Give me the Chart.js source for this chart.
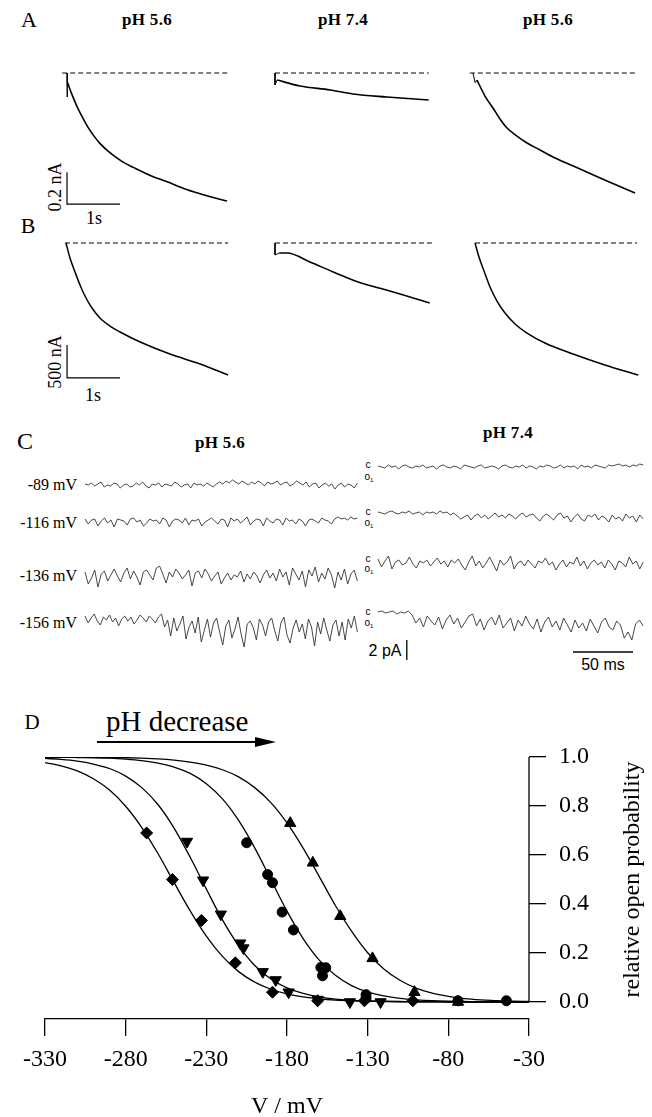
<!DOCTYPE html>
<html>
<head>
<meta charset="utf-8">
<script src="https://cdn.jsdelivr.net/npm/chart.js@4.4.1/dist/chart.umd.min.js"></script>
<style>
  html, body { margin: 0; padding: 0; background: #fff; }
  body { width: 652px; height: 1117px; position: relative; overflow: hidden; font-family: "Liberation Serif", serif; color: #000; }
  canvas { position: absolute; }
  .t { position: absolute; transform: translate(-50%, -50%); white-space: nowrap; line-height: 1; }
  .l { position: absolute; transform: translate(0, -50%); white-space: nowrap; line-height: 1; }
  .r { position: absolute; transform: translate(-100%, -50%); white-space: nowrap; line-height: 1; }
  .rot { position: absolute; transform: translate(-50%, -50%) rotate(-90deg); white-space: nowrap; line-height: 1; }
  .ph { font-weight: bold; font-size: 17px; letter-spacing: 0.3px; }
  .sans { font-family: "Liberation Sans", Arial, sans-serif; }
  .co { font-family: "Liberation Sans", Arial, sans-serif; font-size: 10px; }
  .co sub { font-size: 6px; vertical-align: -2px; }
</style>
</head>
<body>
<!-- panel A -->
<div class="t" style="left:29px;top:20px;font-size:22px">A</div>
<div class="t ph" style="left:147px;top:19px">pH 5.6</div>
<div class="t ph" style="left:343px;top:19px">pH 7.4</div>
<div class="t ph" style="left:548px;top:19px">pH 5.6</div>
<div class="rot" style="left:55px;top:187px;font-size:18px">0.2 nA</div>
<div class="t" style="left:94px;top:218px;font-size:18px">1s</div>
<!-- panel B -->
<div class="t" style="left:28px;top:226px;font-size:22px">B</div>
<div class="rot" style="left:55px;top:362px;font-size:18px">500 nA</div>
<div class="t" style="left:93px;top:395px;font-size:18px">1s</div>
<!-- panel C -->
<div class="t" style="left:25px;top:441px;font-size:24px">C</div>
<div class="t ph" style="left:220px;top:442px">pH 5.6</div>
<div class="t ph" style="left:508px;top:432px">pH 7.4</div>
<div class="r" style="left:77px;top:485px;font-size:16px">-89 mV</div>
<div class="r" style="left:77px;top:523px;font-size:16px">-116 mV</div>
<div class="r" style="left:77px;top:576px;font-size:16px">-136 mV</div>
<div class="r" style="left:77px;top:623px;font-size:16px">-156 mV</div>
<div class="t co" style="left:368px;top:465px">c</div>
<div class="t co" style="left:369px;top:477px">o<sub>1</sub></div>
<div class="t co" style="left:368px;top:512px">c</div>
<div class="t co" style="left:369px;top:523px">o<sub>1</sub></div>
<div class="t co" style="left:368px;top:559px">c</div>
<div class="t co" style="left:369px;top:569px">o<sub>1</sub></div>
<div class="t co" style="left:368px;top:612px">c</div>
<div class="t co" style="left:369px;top:623px">o<sub>1</sub></div>
<div class="t sans" style="left:385px;top:651px;font-size:16px">2 pA</div>
<div class="t sans" style="left:603px;top:665px;font-size:16px">50 ms</div>
<!-- panel D -->
<div class="t" style="left:32px;top:722px;font-size:21px">D</div>
<div class="l" style="left:106px;top:721px;font-size:29px">pH decrease</div>
<svg style="position:absolute;left:95px;top:734px" width="185" height="16">
  <line x1="2" y1="8" x2="166" y2="8" stroke="#000" stroke-width="2"/>
  <polygon points="160,3 181,8 160,13" fill="#000"/>
</svg>
<canvas id="dChart" width="652" height="430" style="left:0;top:700px"></canvas>

<script>
Chart.defaults.font.family = '"Liberation Serif", "Times New Roman", serif';
Chart.defaults.color = '#000';

// ---------- A: currents, time in s, current in nA ----------
const A1_T = [0.01, 0.1, 0.19, 0.28, 0.38, 0.5, 0.62, 0.78, 0.94, 1.1, 1.25, 1.57, 1.89, 2.19, 2.51, 2.83, 3.02];
const A1_I = [-0.06, -0.14, -0.21, -0.27, -0.33, -0.39, -0.44, -0.49, -0.53, -0.565, -0.59, -0.64, -0.68, -0.72, -0.755, -0.785, -0.80];
const A2_T = [0.04, 0.47, 1.04, 1.47, 2.11, 2.9];
const A2_I = [-0.044, -0.081, -0.106, -0.131, -0.15, -0.169];
const A3_T = [0.075, 0.226, 0.377, 0.509, 0.642, 0.83, 1.019, 1.264, 1.509, 2.019, 2.528, 3.057];
const A3_I = [-0.044, -0.144, -0.219, -0.2875, -0.344, -0.394, -0.4375, -0.481, -0.525, -0.6, -0.675, -0.75];
const A_SCALE_NA = 0.2;
const A_SCALE_S = 1;

// ---------- B: currents, time in s, current in nA ----------
const B1_T = [0, 0.075, 0.17, 0.264, 0.358, 0.49, 0.64, 0.83, 1.02, 1.40, 1.96, 2.53, 3.06];
const B1_I = [0, -227, -439, -636, -803, -985, -1136, -1258, -1348, -1500, -1682, -1833, -2000];
const B2_T = [0.08, 0.23, 0.66, 1.1, 1.57, 2.0, 2.36, 2.92];
const B2_I = [-152, -152, -288, -440, -591, -690, -773, -909];
const B3_T = [0, 0.075, 0.17, 0.283, 0.415, 0.566, 0.755, 0.981, 1.32, 1.85, 2.45, 3.08];
const B3_I = [0, -212, -424, -667, -879, -1061, -1227, -1364, -1515, -1682, -1848, -2000];
const B_SCALE_NA = 500;
const B_SCALE_S = 1;

// ---------- C: single channel records, pA ----------
const LEFT_SPAN_MS = 227;
const RIGHT_SPAN_MS = 221;
const L89 = [0.1,0.0,0.2,-0.1,0.1,0.3,-0.2,0.0,-0.1,0.2,0.1,-0.3,0.0,0.1,-0.2,-0.1,0.2,0.0,0.3,-0.1,-0.3,0.1,0.0,0.2,-0.2,0.1,0.0,-0.1,0.3,0.1,-0.2,0.0,0.1,-0.3,0.2,0.0,0.1,-0.1,0.2,0.0,-0.2,0.1,0.3,0.1,0.4,0.2,0.5,0.3,0.1,0.4,0.2,0.0,0.3,0.1,0.4,0.2,-0.1,0.3,0.1,0.2,0.4,0.0,0.2,0.3,-0.1,0.1,0.4,0.2,0.0,0.3,-0.2,0.1,0.2,-0.3,0.0,0.2,-0.1,0.1,-0.4,0.0,0.2,-0.2,0.1,0.0,-0.3,0.2];
const L116 = [0.2,-0.3,0.1,0.2,-0.5,0.0,0.3,-0.2,0.1,-0.6,0.2,0.1,0.0,-0.4,0.2,0.3,-0.1,0.1,-0.5,-0.2,0.2,0.0,0.1,-0.3,0.3,0.1,-0.6,0.0,0.2,0.1,-0.2,0.3,-0.4,0.1,0.0,0.2,-0.5,-0.1,0.1,0.3,0.0,-0.3,0.2,0.1,-0.6,0.3,0.0,0.2,-0.2,0.1,0.4,-0.4,0.0,0.2,0.1,-0.5,0.3,0.0,-0.2,0.2,0.1,-0.4,0.3,0.0,0.1,-0.3,0.2,0.0,-0.5,0.1,0.2,0.0,-0.2,0.3,0.1,0.0,-0.3,0.2,0.4,0.2,0.3,0.1,0.4,0.2,0.3];
const L136 = [-0.6,-1.8,-1.2,-0.4,-2.1,-0.8,-0.5,-1.5,-0.9,-0.3,-1.0,-1.6,-0.7,-0.2,-1.3,-0.5,-1.1,-1.9,-0.6,-0.4,-0.9,-1.4,-0.2,0.0,-0.8,-1.7,-0.6,-1.1,-0.3,-0.7,-1.3,-0.9,-0.4,-2.0,-0.7,-0.5,-1.2,-0.3,-0.8,-1.5,-1.0,-0.6,-1.8,-1.2,-0.7,-1.4,-0.9,-1.1,-0.5,-1.6,-0.8,-1.3,-0.6,-1.0,-1.7,-0.9,-0.4,-1.2,-0.7,-1.5,-0.3,-1.1,-0.6,-1.9,-0.2,-0.8,-1.4,-0.5,-2.1,-0.4,-1.0,-0.1,-1.6,-0.7,-1.3,-0.2,-0.9,-2.2,-0.6,-1.4,-0.3,-1.8,-0.8,-0.4,-1.5];
const L156 = [-0.4,-1.1,-0.6,-0.2,-0.9,-1.3,-0.5,-0.8,-0.3,-1.0,-0.6,-1.4,-0.7,-0.4,-0.9,-0.5,-1.2,-0.8,-0.3,-0.6,-1.0,-0.4,-0.7,-1.1,-0.5,-0.2,-1.5,-0.8,-2.4,-0.6,-1.9,-1.2,-0.4,-2.7,-1.5,-0.9,-2.1,-0.5,-3.0,-1.8,-0.7,-2.5,-1.1,-0.6,-2.0,-3.3,-1.4,-0.8,-2.6,-1.7,-0.5,-2.2,-3.5,-1.2,-0.9,-1.6,-2.8,-0.7,-1.3,-2.4,-1.0,-0.6,-1.9,-2.9,-1.1,-0.5,-2.3,-3.1,-1.6,-0.8,-2.0,-1.2,-2.7,-0.7,-1.5,-3.4,-1.0,-2.2,-0.6,-1.8,-2.9,-1.3,-0.8,-2.4,-1.0,-2.8,-0.7,-1.6,-0.4,-2.0];
const R89 = [0.1,0.0,-0.1,0.2,0.0,0.1,-0.2,0.1,0.2,0.0,-0.1,0.1,0.0,0.2,-0.1,0.0,0.1,-0.2,0.1,0.2,0.0,-0.1,0.1,0.0,-0.2,0.2,0.1,0.0,-0.1,0.1,0.2,-0.1,0.0,0.1,0.0,-0.2,0.1,0.2,0.0,-0.1,0.1,0.0,0.2,-0.1,0.1,0.0,-0.2,0.1,0.0,0.2,0.1,-0.1,0.0,0.2,-0.1,0.1,0.0,0.1,-0.2,0.2,0.0,0.1,-0.1,0.2,0.1,0.0,-0.1,0.2,0.1,0.2,0.3,0.1,0.2,0.0,0.2,0.1,0.3,0.2];
const R116 = [0.1,0.0,-0.1,0.1,0.2,0.0,-0.1,0.1,0.0,0.2,-0.1,0.0,0.1,-0.2,0.1,0.0,0.1,-0.1,0.2,0.0,0.1,-0.2,0.0,-0.3,-0.6,-0.4,-0.2,-0.7,-0.3,-0.1,-0.5,-0.2,-0.6,-0.3,0.0,-0.4,-0.2,-0.5,-0.1,-0.3,-0.6,-0.2,0.0,-0.4,-0.2,-0.1,-0.5,-0.8,-0.3,-0.1,-0.4,-0.7,-0.2,0.0,-0.5,-0.3,-0.9,-0.4,-0.1,-0.6,-0.8,-0.2,-0.4,-0.1,-0.7,-0.3,-0.5,-0.9,-0.2,-0.6,-0.4,-0.8,-0.1,-0.5,-0.3,-0.9,-0.2,-0.6];
const R136 = [-0.1,-0.9,-0.3,0.2,-1.1,-0.4,-0.2,-0.7,-0.5,0.1,-0.6,-1.0,-0.3,-0.5,-0.2,-0.8,-0.4,0.0,-0.6,-0.3,-0.9,-0.2,-0.5,-0.1,-0.7,-1.2,-0.4,0.2,-0.8,-0.3,-1.0,-0.5,0.1,-0.6,-1.3,-0.2,-0.7,-0.4,0.2,-1.1,-0.5,-0.3,-0.8,-0.2,-0.6,-1.0,-0.3,-0.5,0.0,-0.7,-0.4,-1.2,-0.6,-0.2,-0.9,-0.4,-0.6,0.1,-0.8,-0.3,-1.1,-0.5,-0.2,-0.7,-0.4,-1.0,-0.2,-0.6,-1.2,-0.3,-0.5,-0.9,0.1,-0.6,-0.3,-1.1,-0.4];
const R156 = [0.0,0.1,-0.1,0.0,0.1,-0.2,0.0,-0.1,0.1,-0.3,-1.1,-0.6,-1.5,-0.4,-0.9,-1.3,-0.5,-1.7,-0.8,-0.3,-1.2,-0.6,-1.6,-1.0,-0.4,-0.2,-1.4,-0.7,-1.8,-0.9,-0.5,-1.3,-0.3,-1.6,-1.1,-0.6,-1.9,-0.8,-1.4,-0.4,-1.2,-1.7,-0.7,-2.0,-1.0,-0.5,-1.5,-0.9,-1.8,-0.6,-1.3,-2.0,-0.8,-1.6,-1.1,-1.9,-0.7,-1.4,-2.1,-1.0,-0.6,-1.5,-1.8,-0.9,-1.3,-2.6,-2.0,-2.8,-1.2,-0.8,-1.4];
const C_SCALE_PA = 2;
const C_SCALE_MS = 50;

// ---------- D: relative open probability vs voltage ----------
const X_TICKS = [-330, -280, -230, -180, -130, -80, -30];
const Y_TICKS = [0, 0.2, 0.4, 0.6, 0.8, 1.0];
const DIAMOND_V = [-267, -251, -233, -212, -189, -161, -132, -102];
const DIAMOND_P = [0.69, 0.50, 0.333, 0.16, 0.04, 0.005, 0.005, 0.005];
const DOWN_V = [-242, -232, -221, -209, -207, -195, -187, -179, -161, -141, -122];
const DOWN_P = [0.655, 0.497, 0.358, 0.24, 0.22, 0.123, 0.09, 0.04, 0.01, 0.0, 0.0];
const CIRCLE_V = [-205, -192, -189, -183, -176, -159, -156, -158, -131, -131, -74, -44];
const CIRCLE_P = [0.65, 0.52, 0.487, 0.367, 0.294, 0.141, 0.14, 0.107, 0.03, 0.015, 0.005, 0.005];
const UP_V = [-178, -164, -147, -127, -101, -74];
const UP_P = [0.73, 0.568, 0.35, 0.178, 0.04, 0.0];
const FIT_V = [-330,-320,-310,-300,-290,-280,-270,-260,-250,-240,-230,-220,-210,-200,-190,-180,-170,-160,-150,-140,-130,-120,-110,-100,-90,-80,-70,-60,-50,-40,-30];
const FIT_DIAMOND = [0.977,0.964,0.943,0.911,0.865,0.799,0.712,0.606,0.488,0.372,0.269,0.186,0.124,0.081,0.052,0.033,0.021,0.013,0.008,0.005,0.003,0.002,0.001,0.001,0.001,0,0,0,0,0,0];
const FIT_DOWN = [0.994,0.990,0.983,0.971,0.953,0.922,0.875,0.806,0.710,0.591,0.461,0.335,0.230,0.149,0.094,0.058,0.035,0.021,0.012,0.007,0.004,0.003,0.002,0.001,0.001,0,0,0,0,0,0];
const FIT_CIRCLE = [0.999,0.999,0.998,0.997,0.995,0.991,0.985,0.975,0.959,0.933,0.891,0.829,0.741,0.629,0.500,0.371,0.259,0.171,0.109,0.067,0.041,0.025,0.015,0.009,0.005,0.003,0.002,0.001,0.001,0,0];
const FIT_UP = [1.0,1.0,0.999,0.999,0.998,0.997,0.995,0.992,0.987,0.979,0.967,0.948,0.919,0.875,0.814,0.731,0.628,0.512,0.394,0.289,0.201,0.135,0.089,0.057,0.036,0.023,0.014,0.009,0.006,0.003,0.002];

function xy(xs, ys) { return xs.map((x, i) => ({ x, y: ys[i] })); }
function sampleTimes(n, span) { return Array.from({ length: n }, (_, i) => i * span / (n - 1)); }

function line(data, extra) {
    return Object.assign({ data, borderColor: '#000', borderWidth: 1.5, pointRadius: 0, tension: 0, fill: false }, extra || {});
}
function smooth(data, w) {
    return line(data, { cubicInterpolationMode: 'monotone', borderWidth: w || 1.5 });
}
function dashed(t0, t1) {
    return line([{ x: t0, y: 0 }, { x: t1, y: 0 }], { borderWidth: 1, borderDash: [5, 3] });
}

// box = page rect of the canvas, origin = page pixel of (0,0), then px per data unit
function traceChart(box, origin, pxPerX, pxPerY, datasets) {
    const [left, top, w, h] = box;
    const c = document.createElement('canvas');
    c.width = w;
    c.height = h;
    c.style.left = left + 'px';
    c.style.top = top + 'px';
    document.body.appendChild(c);
    return new Chart(c, {
        type: 'line',
        data: { datasets },
        options: {
            responsive: false, animation: false, events: [], devicePixelRatio: 1,
            layout: { padding: 0 },
            plugins: { legend: { display: false }, tooltip: { enabled: false } },
            scales: {
                x: { type: 'linear', display: false, min: (left - origin[0]) / pxPerX, max: (left + w - origin[0]) / pxPerX },
                y: { type: 'linear', display: false, min: (origin[1] - top - h) / pxPerY, max: (origin[1] - top) / pxPerY }
            }
        }
    });
}

// panel A
const A_PX_S = 53, A_PX_NA = 160;
traceChart([55, 60, 185, 160], [67, 73], A_PX_S, A_PX_NA, [
    smooth(xy(A1_T, A1_I), 1.6),
    line([{ x: 0, y: 0 }, { x: 0, y: -0.15 }, { x: 0.01, y: -0.06 }], { borderWidth: 1 }),
    dashed(-0.09, 3.04),
    line([{ x: 0, y: -0.62 }, { x: 0, y: -0.62 - A_SCALE_NA }, { x: A_SCALE_S, y: -0.62 - A_SCALE_NA }], { borderWidth: 1.2 })
]);
traceChart([265, 60, 175, 60], [275, 73], A_PX_S, A_PX_NA, [
    smooth(xy(A2_T, A2_I), 1.6),
    line([{ x: 0, y: 0 }, { x: 0, y: -0.075 }, { x: 0.04, y: -0.044 }], { borderWidth: 1 }),
    dashed(0, 2.9)
]);
traceChart([460, 60, 185, 150], [473, 73], A_PX_S, A_PX_NA, [
    smooth(xy(A3_T, A3_I), 1.6),
    line([{ x: 0, y: 0 }, { x: 0.04, y: -0.06 }, { x: 0.075, y: -0.044 }], { borderWidth: 1 }),
    dashed(-0.06, 3.08)
]);

// panel B
const B_PX_S = 53, B_PX_NA = 0.066;
traceChart([55, 230, 185, 160], [66, 243], B_PX_S, B_PX_NA, [
    smooth(xy(B1_T, B1_I), 1.5),
    dashed(-0.02, 3.06),
    line([{ x: 0.02, y: -1545 }, { x: 0.02, y: -1545 - B_SCALE_NA }, { x: 0.02 + B_SCALE_S, y: -1545 - B_SCALE_NA }], { borderWidth: 1.2 })
]);
traceChart([265, 230, 175, 90], [275, 243], B_PX_S, B_PX_NA, [
    smooth(xy(B2_T, B2_I), 1.5),
    line([{ x: 0, y: 0 }, { x: 0, y: -182 }, { x: 0.08, y: -152 }], { borderWidth: 1 }),
    dashed(0, 2.96)
]);
traceChart([465, 230, 185, 160], [475, 243], B_PX_S, B_PX_NA, [
    smooth(xy(B3_T, B3_I), 1.5),
    dashed(0, 3.06)
]);

// panel C
const C_PX_MS = 1.2, C_PX_PA = 10;
function rec(vals, span) { return line(xy(sampleTimes(vals.length, span), vals), { borderWidth: 0.9, borderColor: '#333' }); }
traceChart([80, 468, 285, 34], [85, 485], C_PX_MS, C_PX_PA, [rec(L89, LEFT_SPAN_MS)]);
traceChart([80, 505, 285, 36], [85, 521], C_PX_MS, C_PX_PA, [rec(L116, LEFT_SPAN_MS)]);
traceChart([80, 552, 285, 50], [85, 566], C_PX_MS, C_PX_PA, [rec(L136, LEFT_SPAN_MS)]);
traceChart([80, 598, 285, 62], [85, 612], C_PX_MS, C_PX_PA, [rec(L156, LEFT_SPAN_MS)]);
traceChart([372, 452, 280, 30], [378, 467], C_PX_MS, C_PX_PA, [rec(R89, RIGHT_SPAN_MS)]);
traceChart([372, 498, 280, 36], [378, 513], C_PX_MS, C_PX_PA, [rec(R116, RIGHT_SPAN_MS)]);
traceChart([372, 543, 280, 45], [378, 558], C_PX_MS, C_PX_PA, [rec(R136, RIGHT_SPAN_MS)]);
traceChart([372, 597, 280, 75], [378, 612], C_PX_MS, C_PX_PA, [
    rec(R156, RIGHT_SPAN_MS),
    line([{ x: 24, y: -2.8 }, { x: 24, y: -2.8 - C_SCALE_PA }], { borderWidth: 1.3 }),
    line([{ x: 162.5, y: -4 }, { x: 162.5 + C_SCALE_MS, y: -4 }], { borderWidth: 1.3 })
]);

// panel D
function pts(v, p, style, r, rot) {
    return {
        data: xy(v, p), showLine: false, pointStyle: style, pointRadius: r, pointRotation: rot,
        pointBackgroundColor: '#000', pointBorderColor: '#000', pointBorderWidth: 1
    };
}
function fit(vals) { return smooth(xy(FIT_V, vals), 1.3); }

const axisExtras = {
    id: 'axisExtras',
    afterDraw(chart) {
        const { ctx, chartArea, scales: { y } } = chart;
        const y0 = y.getPixelForValue(0), y1 = y.getPixelForValue(1);
        ctx.save();
        ctx.strokeStyle = '#000';
        ctx.lineWidth = 1.3;
        ctx.beginPath();
        ctx.moveTo(chartArea.right, y0);
        ctx.lineTo(chartArea.right, y1);
        ctx.stroke();
        ctx.translate(chartArea.right + 104, (y0 + y1) / 2);
        ctx.rotate(-Math.PI / 2);
        ctx.font = '24px "Liberation Serif"';
        ctx.fillStyle = '#000';
        ctx.textAlign = 'center';
        ctx.textBaseline = 'middle';
        ctx.fillText('relative open probability', 0, 0);
        ctx.restore();
    }
};

new Chart(document.getElementById('dChart'), {
    type: 'line',
    data: {
        datasets: [
            pts(DIAMOND_V, DIAMOND_P, 'rectRot', 6, 0),
            pts(DOWN_V, DOWN_P, 'triangle', 6.5, 180),
            pts(CIRCLE_V, CIRCLE_P, 'circle', 5, 0),
            pts(UP_V, UP_P, 'triangle', 6.5, 0),
            fit(FIT_DIAMOND), fit(FIT_DOWN), fit(FIT_CIRCLE), fit(FIT_UP)
        ]
    },
    options: {
        responsive: false, animation: false, events: [], devicePixelRatio: 1,
        layout: { padding: { left: 45, top: 57, right: 0, bottom: 0 } },
        plugins: { legend: { display: false }, tooltip: { enabled: false } },
        scales: {
            x: {
                type: 'linear', position: 'bottom', min: -330, max: -30,
                afterBuildTicks: s => { s.ticks = X_TICKS.map(v => ({ value: v })); },
                ticks: { font: { size: 24 }, color: '#000', padding: 9, maxRotation: 0 },
                grid: { drawOnChartArea: false, color: '#000', lineWidth: 1.3, tickLength: 17 },
                border: { color: '#000', width: 1.3 },
                title: { display: true, text: 'V / mV', font: { size: 24 }, color: '#000', padding: { top: 0, bottom: 9 } },
                afterFit: s => { s.height = 111; }
            },
            y: {
                type: 'linear', position: 'right', min: -0.0694, max: 1,
                afterBuildTicks: s => { s.ticks = Y_TICKS.map(v => ({ value: v })); },
                ticks: { font: { size: 24 }, color: '#000', padding: 13, callback: v => v.toFixed(1) },
                grid: { drawOnChartArea: false, color: '#000', lineWidth: 1.3, tickLength: 17 },
                border: { display: false },
                afterFit: s => { s.width = 123; }
            }
        }
    },
    plugins: [axisExtras]
});
</script>
</body>
</html>
